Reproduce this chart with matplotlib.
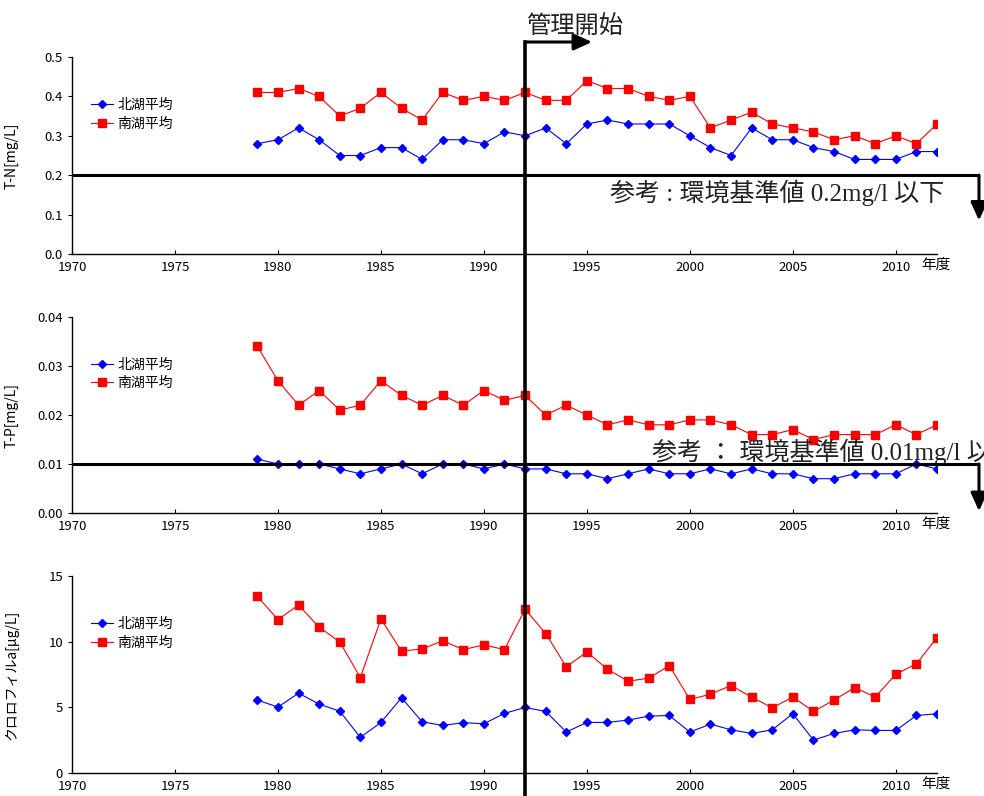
import matplotlib
matplotlib.use("Agg")
import matplotlib.pyplot as plt
import matplotlib.transforms as mtransforms
from matplotlib.lines import Line2D

plt.rcParams['font.family'] = ['Noto Sans CJK JP', 'DejaVu Sans']

years = list(range(1979, 2013))

# 全窒素 T-N [mg/L]
tn_north = [0.28, 0.29, 0.32, 0.29, 0.25, 0.25, 0.27, 0.27, 0.24, 0.29, 0.29, 0.28,
            0.31, 0.30, 0.32, 0.28, 0.33, 0.34, 0.33, 0.33, 0.33, 0.30, 0.27, 0.25,
            0.32, 0.29, 0.29, 0.27, 0.26, 0.24, 0.24, 0.24, 0.26, 0.26]
tn_south = [0.41, 0.41, 0.42, 0.40, 0.35, 0.37, 0.41, 0.37, 0.34, 0.41, 0.39, 0.40,
            0.39, 0.41, 0.39, 0.39, 0.44, 0.42, 0.42, 0.40, 0.39, 0.40, 0.32, 0.34,
            0.36, 0.33, 0.32, 0.31, 0.29, 0.30, 0.28, 0.30, 0.28, 0.33]

# 全リン T-P [mg/L]
tp_north = [0.011, 0.010, 0.010, 0.010, 0.009, 0.008, 0.009, 0.010, 0.008, 0.010, 0.010, 0.009,
            0.010, 0.009, 0.009, 0.008, 0.008, 0.007, 0.008, 0.009, 0.008, 0.008, 0.009, 0.008,
            0.009, 0.008, 0.008, 0.007, 0.007, 0.008, 0.008, 0.008, 0.010, 0.009]
tp_south = [0.034, 0.027, 0.022, 0.025, 0.021, 0.022, 0.027, 0.024, 0.022, 0.024, 0.022, 0.025,
            0.023, 0.024, 0.020, 0.022, 0.020, 0.018, 0.019, 0.018, 0.018, 0.019, 0.019, 0.018,
            0.016, 0.016, 0.017, 0.015, 0.016, 0.016, 0.016, 0.018, 0.016, 0.018]

# クロロフィルa [μg/L]
chl_north = [5.55, 5.02, 6.08, 5.24, 4.71, 2.71, 3.85, 5.73, 3.90, 3.62, 3.83, 3.75,
             4.54, 4.99, 4.69, 3.12, 3.85, 3.85, 4.03, 4.33, 4.38, 3.12, 3.72, 3.29,
             3.01, 3.29, 4.51, 2.51, 3.01, 3.29, 3.24, 3.24, 4.38, 4.51]
chl_south = [13.45, 11.68, 12.79, 11.10, 9.98, 7.27, 11.73, 9.27, 9.45, 10.06, 9.40, 9.75,
             9.40, 12.47, 10.62, 8.08, 9.22, 7.90, 6.99, 7.22, 8.18, 5.60, 6.00, 6.66,
             5.78, 4.97, 5.78, 4.69, 5.55, 6.51, 5.78, 7.52, 8.31, 10.31]

start_year = 1992
tn_standard = 0.2
tp_standard = 0.01

fig = plt.figure(figsize=(9.84, 7.96), dpi=100)
left, width = 72 / 984, 865 / 984
ax_tn = fig.add_axes([left, 1 - 254 / 796, width, 197 / 796])
ax_tp = fig.add_axes([left, 1 - 513 / 796, width, 196 / 796])
ax_chl = fig.add_axes([left, 1 - 773 / 796, width, 197 / 796])

panels = [
    (ax_tn, tn_north, tn_south, (0, 0.5), [0.0, 0.1, 0.2, 0.3, 0.4, 0.5], '{:.1f}', 'T-N[mg/L]'),
    (ax_tp, tp_north, tp_south, (0, 0.04), [0.0, 0.01, 0.02, 0.03, 0.04], '{:.2f}', 'T-P[mg/L]'),
    (ax_chl, chl_north, chl_south, (0, 15), [0, 5, 10, 15], '{:.0f}', 'クロロフィルa[μg/L]'),
]

for ax, north, south, ylim, yticks, fmt, ylabel in panels:
    ax.plot(years, north, color='#0000FF', lw=0.8, marker='D', ms=4.5, label='北湖平均')
    ax.plot(years, south, color='#FF0000', lw=0.8, marker='s', ms=6, label='南湖平均')
    ax.set_xlim(1970, 2012)
    ax.set_ylim(*ylim)
    ax.set_xticks(range(1970, 2011, 5))
    ax.set_yticks(yticks)
    ax.set_yticklabels([fmt.format(v) for v in yticks])
    ax.spines['top'].set_visible(False)
    ax.spines['right'].set_visible(False)
    ax.spines['left'].set_linewidth(1.0)
    ax.spines['bottom'].set_linewidth(1.0)
    ax.tick_params(axis='x', direction='in', length=3, labelsize=9.5, pad=5)
    ax.tick_params(axis='y', direction='out', length=3, labelsize=9.5)
    ax.set_ylabel(ylabel, fontsize=10)
    ax.yaxis.set_label_coords(-0.062, 0.5)
    ax.text(0.982, -0.02, '年度', transform=ax.transAxes, fontsize=10.5,
            ha='left', va='top')
    ax.legend(loc='center left', bbox_to_anchor=(0.022, 0.71), frameon=False,
              fontsize=10, handlelength=1.6, handletextpad=0.3, labelspacing=0.35,
              borderpad=0, borderaxespad=0)

ref_font = ['Liberation Serif', 'Noto Sans CJK JP']
x_right = 979 / 984
arrow = dict(arrowstyle='-|>,head_length=0.55,head_width=0.25', lw=2.2, color='k',
             mutation_scale=20, shrinkA=0, shrinkB=0)

# 環境基準値の線と下向き矢印
for ax, level, tip, label, tx, ty in [
        (ax_tn, tn_standard, 0.085, '参考 : 環境基準値 0.2mg/l 以下', 610 / 984, 0.155),
        (ax_tp, tp_standard, 0.0004, '参考 ： 環境基準値 0.01mg/l 以下', 652 / 984, 0.0124)]:
    blend = mtransforms.blended_transform_factory(fig.transFigure, ax.transData)
    fig.add_artist(Line2D([left, x_right], [level, level], transform=blend,
                          color='k', lw=2.2, solid_capstyle='butt'))
    ax.annotate('', xy=(x_right, tip), xytext=(x_right, level), xycoords=blend,
                textcoords=blend, arrowprops=arrow, annotation_clip=False)
    ax.text(tx, ty, label, transform=blend, fontsize=18, family=ref_font,
            ha='left', va='center', color='#222222')

# 管理開始の縦線と矢印
vblend = mtransforms.blended_transform_factory(ax_chl.transData, fig.transFigure)
y_top = 1 - 42 / 796
fig.add_artist(Line2D([start_year, start_year], [0, y_top], transform=vblend,
                      color='k', lw=2.6, solid_capstyle='projecting'))
ax_chl.annotate('', xy=(1995.25, y_top), xytext=(start_year, y_top), xycoords=vblend,
                textcoords=vblend, arrowprops=arrow, annotation_clip=False)
ax_chl.text(start_year + 0.05, 1 - 26 / 796, '管理開始', transform=vblend, fontsize=17.5,
            family=ref_font, ha='left', va='center', color='#222222')

fig.savefig('out.png', dpi=100)
